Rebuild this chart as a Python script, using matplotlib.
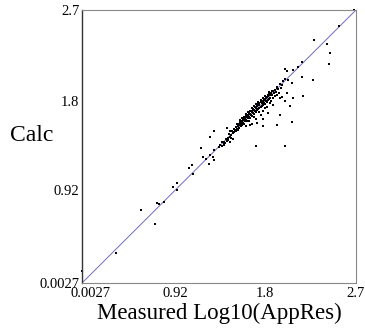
"""Measured vs calculated Log10 apparent resistivity crossplot."""

import matplotlib

matplotlib.use("Agg")
import matplotlib.pyplot as plt
import matplotlib.transforms as mtransforms

AX_MIN = 0.0027
AX_MAX = 2.7
tick_values = [0.0027, 0.92, 1.8, 2.7]
tick_labels = ["0.0027", "0.92", "1.8", "2.7"]

# scattered points away from the main cluster
measured_outer = [0.0027, 0.34, 0.58, 0.72, 0.74, 0.76, 0.81, 0.90, 0.94, 0.94,
                  1.06, 1.09, 1.10, 1.17, 1.19, 1.22, 1.26, 1.25, 1.29, 1.30,
                  1.30, 1.26, 1.30, 1.35, 1.38, 1.40, 1.43, 1.44, 1.46, 1.49,
                  1.46, 1.72, 2.00, 2.07, 2.18, 2.05, 2.08, 2.00, 2.02, 2.07,
                  2.28, 2.17, 2.08, 2.13, 2.17, 2.00, 2.02, 2.29, 2.41, 2.44,
                  2.43, 2.53, 2.68, 1.78, 1.92, 1.95, 1.97, 1.92]
calc_outer = [0.12, 0.30, 0.72, 0.59, 0.79, 0.78, 0.80, 0.95, 0.99, 0.92,
              1.14, 1.17, 1.08, 1.34, 1.25, 1.23, 1.27, 1.18, 1.25, 1.32,
              1.50, 1.45, 1.22, 1.35, 1.40, 1.38, 1.53, 1.42, 1.40, 1.43,
              1.50, 1.36, 1.36, 1.59, 1.85, 1.75, 1.83, 1.80, 1.88, 1.98,
              2.01, 2.04, 2.11, 2.14, 2.19, 2.12, 2.10, 2.40, 2.36, 2.28,
              2.17, 2.54, 2.70, 1.55, 1.56, 1.66, 1.84, 1.94]

# dense cluster around 1.4 - 2.0
measured_cluster = [1.45, 1.47, 1.48, 1.49, 1.50, 1.50, 1.51, 1.52, 1.52, 1.53,
                    1.54, 1.54, 1.55, 1.55, 1.56, 1.56, 1.57, 1.57, 1.58, 1.58,
                    1.59, 1.59, 1.60, 1.60, 1.61, 1.61, 1.62, 1.62, 1.63, 1.63,
                    1.64, 1.64, 1.65, 1.65, 1.66, 1.66, 1.67, 1.67, 1.68, 1.68,
                    1.69, 1.69, 1.70, 1.70, 1.71, 1.71, 1.72, 1.72, 1.73, 1.73,
                    1.74, 1.74, 1.75, 1.75, 1.76, 1.76, 1.77, 1.77, 1.78, 1.78,
                    1.79, 1.79, 1.80, 1.80, 1.81, 1.81, 1.82, 1.82, 1.83, 1.83,
                    1.84, 1.84, 1.85, 1.85, 1.86, 1.87, 1.88, 1.89, 1.90, 1.91,
                    1.92, 1.93,
                    1.62, 1.66, 1.70, 1.74, 1.78, 1.60, 1.64, 1.68, 1.72, 1.76,
                    1.80, 1.84, 1.58, 1.56, 1.53,
                    1.65, 1.70, 1.75, 1.80, 1.85, 1.88, 1.90, 1.78, 1.82, 1.86,
                    1.72, 1.76, 1.92, 1.94, 1.95, 1.88, 1.83, 1.78, 1.73, 1.68,
                    1.62, 1.66,
                    1.36, 1.38, 1.40, 1.41, 1.42, 1.43, 1.44, 1.46, 1.40, 1.47,
                    1.95, 1.97, 1.98, 2.00, 2.03, 1.96,
                    1.57, 1.61, 1.65, 1.69, 1.73, 1.77, 1.81, 1.85, 1.63, 1.67,
                    1.71, 1.75, 1.79, 1.83, 1.87]
calc_cluster = [1.47, 1.46, 1.50, 1.48, 1.52, 1.49, 1.51, 1.50, 1.54, 1.52,
                1.55, 1.51, 1.57, 1.53, 1.56, 1.59, 1.55, 1.58, 1.60, 1.56,
                1.62, 1.58, 1.61, 1.57, 1.63, 1.60, 1.65, 1.61, 1.64, 1.60,
                1.66, 1.63, 1.68, 1.64, 1.67, 1.63, 1.70, 1.66, 1.69, 1.65,
                1.72, 1.68, 1.71, 1.67, 1.74, 1.70, 1.73, 1.69, 1.75, 1.71,
                1.77, 1.72, 1.76, 1.73, 1.79, 1.74, 1.78, 1.75, 1.80, 1.76,
                1.82, 1.78, 1.81, 1.77, 1.83, 1.80, 1.84, 1.79, 1.85, 1.81,
                1.87, 1.82, 1.86, 1.83, 1.88, 1.86, 1.90, 1.88, 1.91, 1.89,
                1.93, 1.92,
                1.67, 1.70, 1.75, 1.79, 1.83, 1.64, 1.69, 1.73, 1.77, 1.81,
                1.85, 1.89, 1.63, 1.61, 1.57,
                1.60, 1.64, 1.69, 1.73, 1.78, 1.83, 1.85, 1.70, 1.74, 1.80,
                1.62, 1.66, 1.86, 1.88, 1.83, 1.76, 1.68, 1.62, 1.58, 1.57,
                1.55, 1.56,
                1.37, 1.36, 1.40, 1.39, 1.43, 1.41, 1.44, 1.45, 1.37, 1.44,
                1.97, 1.96, 2.00, 2.02, 2.01, 1.93,
                1.59, 1.62, 1.67, 1.71, 1.75, 1.79, 1.83, 1.87, 1.66, 1.70,
                1.74, 1.78, 1.82, 1.86, 1.90]

plt.rcParams["font.family"] = ["Liberation Serif", "DejaVu Serif"]

fig = plt.figure(figsize=(3.65, 3.32), dpi=100)
ax = fig.add_axes([0.2247, 0.1476, 0.7506, 0.8223])

# 1:1 reference line
ax.plot([AX_MIN, AX_MAX], [AX_MIN, AX_MAX], color="#6c6cc0", linewidth=0.7, zorder=1)
ax.plot(measured_cluster + measured_outer, calc_cluster + calc_outer,
        linestyle="none", marker="s", markersize=2.1, markeredgewidth=0,
        color="black", zorder=2, clip_on=False)

ax.set_xlim(AX_MIN, AX_MAX)
ax.set_ylim(AX_MIN, AX_MAX)
ax.set_xticks(tick_values)
ax.set_yticks(tick_values)
ax.set_xticklabels(tick_labels, fontsize=10.5)
ax.set_yticklabels(tick_labels, fontsize=10.5)
ax.tick_params(axis="x", length=0, pad=3)
ax.tick_params(axis="y", length=0, pad=2)

# first x label sits a little right of its tick, clear of the y label
first = ax.get_xticklabels()[0]
first.set_transform(first.get_transform()
                    + mtransforms.ScaledTranslation(6 / 72, 0, fig.dpi_scale_trans))

for side in ["top", "right", "bottom"]:
    ax.spines[side].set_color("#888888")
    ax.spines[side].set_linewidth(0.8)
ax.spines["left"].set_color("#333333")
ax.spines["left"].set_linewidth(1.0)

ax.set_xlabel("Measured Log10(AppRes)", fontsize=16.5, labelpad=2)
ax.set_ylabel("Calc", fontsize=17, rotation=0, labelpad=0)
ax.yaxis.set_label_coords(-0.182, 0.5)

fig.savefig("out.png", dpi=100)
